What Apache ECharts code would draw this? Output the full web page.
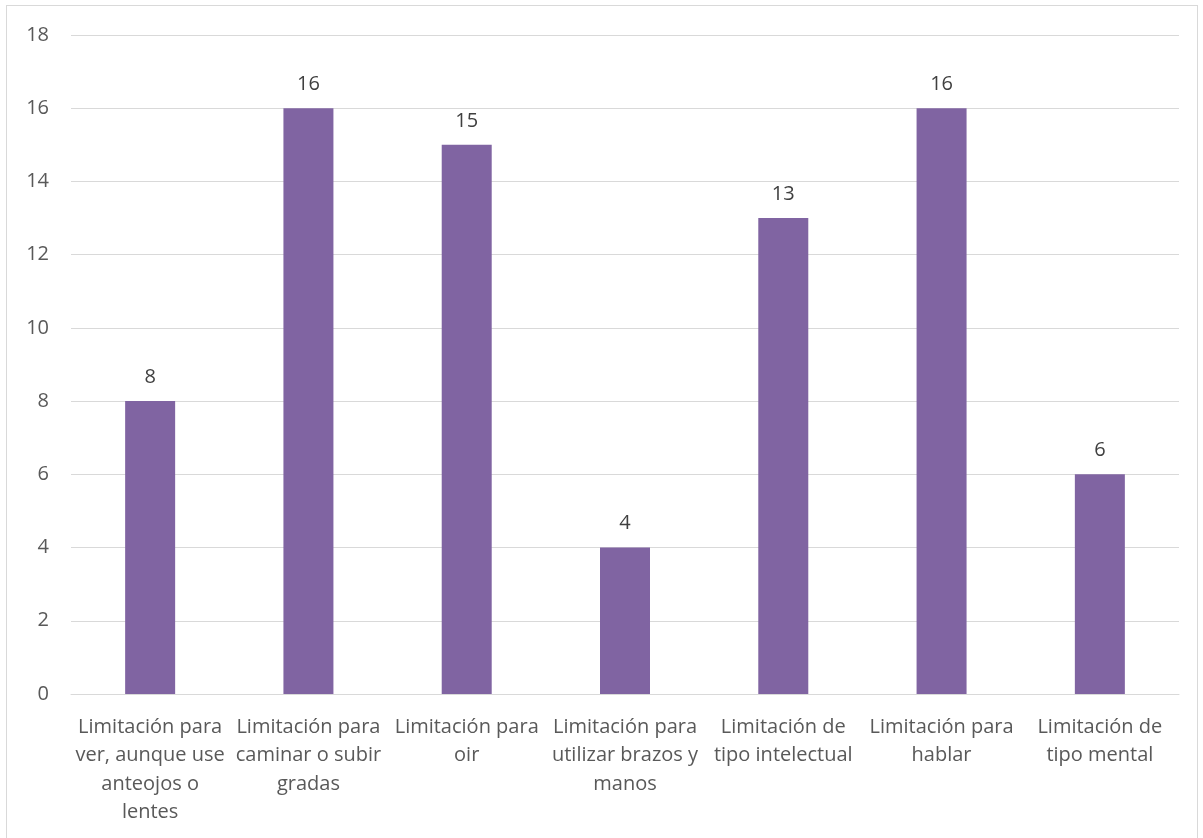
<!DOCTYPE html>
<html>
<head>
<meta charset="utf-8">
<script src="https://cdn.jsdelivr.net/npm/echarts@6/dist/echarts.min.js"></script>
<style>
  html, body { margin: 0; padding: 0; background: #fff; }
  #frame { position: absolute; left: 6px; top: 5px; width: 1192px; height: 850px; border: 1px solid #d9d9d9; box-sizing: border-box; }
  #chart { position: absolute; left: 0; top: 0; width: 1203px; height: 838px; }
</style>
</head>
<body>
<div id="frame"></div>
<div id="chart"></div>
<script>
const categories = [
  'Limitación para\nver, aunque use\nanteojos o\nlentes',
  'Limitación para\ncaminar o subir\ngradas',
  'Limitación para\noir',
  'Limitación para\nutilizar brazos y\nmanos',
  'Limitación de\ntipo intelectual',
  'Limitación para\nhablar',
  'Limitación de\ntipo mental',
]
const values = [8, 16, 15, 4, 13, 16, 6]

const myChart = echarts.init(document.getElementById('chart'))
myChart.setOption({
  animation: false,
  textStyle: { fontFamily: 'Open Sans' },
  grid: { left: 71, right: 24, top: 35, bottom: 144, containLabel: false },
  xAxis: {
    type: 'category',
    data: categories,
    axisTick: { show: false },
    axisLine: { lineStyle: { color: '#d9d9d9', width: 1 } },
    axisLabel: {
      interval: 0,
      color: '#595959',
      fontSize: 20,
      lineHeight: 28.5,
      margin: 19,
    },
  },
  yAxis: {
    type: 'value',
    min: 0,
    max: 18,
    interval: 2,
    axisLine: { show: false },
    axisTick: { show: false },
    splitLine: { lineStyle: { color: '#d9d9d9', width: 1 } },
    axisLabel: { color: '#595959', fontSize: 20, margin: 22 },
  },
  series: [
    {
      type: 'bar',
      data: values,
      barWidth: 50,
      itemStyle: { color: '#8064a2' },
      label: {
        show: true,
        position: 'top',
        distance: 14,
        color: '#404040',
        fontSize: 20,
      },
    },
  ],
})
</script>
</body>
</html>
